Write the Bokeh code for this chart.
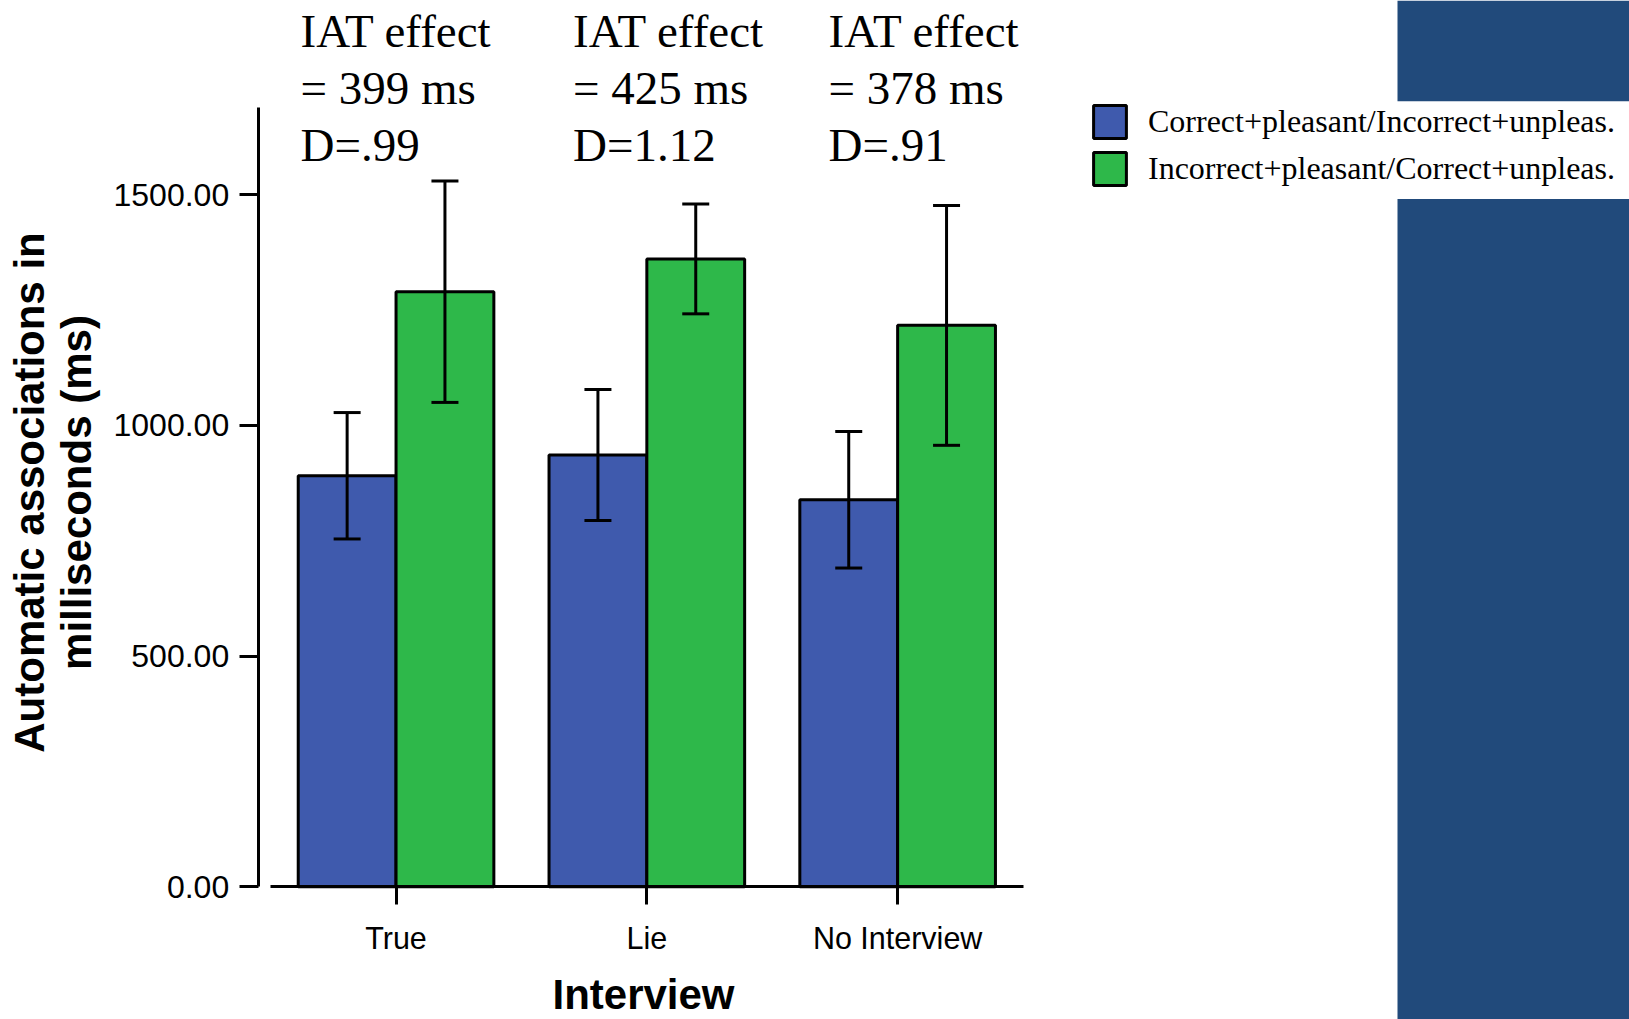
import numpy as np
from bokeh.plotting import figure
from bokeh.models import (ColumnDataSource, Range1d, FixedTicker, PrintfTickFormatter,
                          Whisker, TeeHead, Legend, LegendItem, BoxAnnotation)
from bokeh.embed import file_html
from bokeh.resources import INLINE
from bokeh.core.properties import value

# ---------------- data ----------------
categories = ["True", "Lie", "No Interview"]
series_names = ["Correct+pleasant/Incorrect+unpleas.",
                "Incorrect+pleasant/Correct+unpleas."]
congruent_means = [891, 936, 839]
congruent_err = [137, 142, 148]
incongruent_means = [1290, 1361, 1217]
incongruent_err = [240, 119, 260]
iat_effect = [399, 425, 378]
d_scores = [".99", "1.12", ".91"]
y_ticks = [0, 500, 1000, 1500]
x_title = "Interview"
y_title = "Automatic associations in\nmilliseconds (ms)"

# ---------------- layout constants ----------------
CW, CH = 1629, 1019
FL = 257.7          # canvas x of the y axis
FB = 886.3          # canvas y of the zero line
PX_X = 250.8        # px per category
PX_Y = 0.46132      # px per ms
X0 = -0.0496        # data x of the y axis
Y_AXIS_TOP = 1689

def xd(cx):
    return X0 + (cx - FL) / PX_X

def yd(cy):
    return (FB - cy) / PX_Y

BLUE = "#3F5AAD"
GREEN = "#2EB84A"
NAVY = "#214A7B"
BAR_W = 0.39

centers = np.arange(len(categories)) + 0.5
cm, ce = np.array(congruent_means), np.array(congruent_err)
im, ie = np.array(incongruent_means), np.array(incongruent_err)
src_c = ColumnDataSource(dict(x=centers - BAR_W / 2, top=cm, upper=cm + ce, lower=cm - ce))
src_i = ColumnDataSource(dict(x=centers + BAR_W / 2, top=im, upper=im + ie, lower=im - ie))

p = figure(width=CW, height=CH, output_backend="svg", toolbar_location=None,
           title_location=None,
           x_range=Range1d(xd(0), xd(CW)), y_range=Range1d(yd(CH), yd(0)),
           min_border_left=0, min_border_right=0, min_border_top=0,
           min_border_bottom=0)
p.outline_line_color = None
p.xgrid.visible = False
p.ygrid.visible = False
p.background_fill_color = "white"
p.border_fill_color = "white"

# decorative navy column at right
p.add_layout(BoxAnnotation(left=xd(1397), bottom=yd(100.8), fill_color=NAVY, fill_alpha=1,
                           line_color=None, level="underlay"))
p.add_layout(BoxAnnotation(left=xd(1397), top=yd(198.4), fill_color=NAVY,
                           fill_alpha=1, line_color=None, level="underlay"))

r1 = p.vbar(x="x", top="top", width=BAR_W, bottom=0, source=src_c,
            fill_color=BLUE, line_color="black", line_width=3)
r2 = p.vbar(x="x", top="top", width=BAR_W, bottom=0, source=src_i,
            fill_color=GREEN, line_color="black", line_width=3)

for s in (src_c, src_i):
    w = Whisker(base="x", upper="upper", lower="lower", source=s,
                line_color="black", line_width=3, level="overlay",
                upper_head=TeeHead(size=27, line_width=3, line_color="black"),
                lower_head=TeeHead(size=27, line_width=3, line_color="black"))
    p.add_layout(w)

# IAT annotations
ann_x = [xd(300), xd(572.5), xd(828)]
lines = [["IAT effect"] * 3,
         ["= %d ms" % v for v in iat_effect],
         ["D=%s" % d for d in d_scores]]
baselines = [30.0, 87.0, 144.0]
for txts, by in zip(lines, baselines):
    p.text(x=ann_x, y=[yd(by)] * 3, text=txts, text_font=value("Liberation Serif"),
           text_font_size="47px", text_color="black", text_baseline="alphabetic",
           text_align="left")

# axis titles (drawn as text so they can sit where the reference has them)
p.text(x=[xd(643)], y=[yd(994)], text=[x_title],
       text_font=value("Liberation Sans"), text_font_style="bold",
       text_font_size="42px", text_color="black", text_align="center",
       text_baseline="middle")
p.text(x=[xd(52.5)], y=[yd(492)], text=[y_title], angle=np.pi / 2,
       text_font=value("Liberation Sans"), text_font_style="bold",
       text_font_size="42px", text_color="black", text_align="center",
       text_baseline="middle", text_line_height=1.0)

# axes
ya = p.yaxis[0]
ya.fixed_location = X0
ya.ticker = FixedTicker(ticks=y_ticks)
ya.formatter = PrintfTickFormatter(format="%.2f")
ya.bounds = (0, Y_AXIS_TOP)
ya.axis_line_width = 3
ya.major_tick_line_width = 3
ya.major_tick_out = 19
ya.major_tick_in = 0
ya.minor_tick_out = 0
ya.minor_tick_in = 0
ya.major_label_text_font = "Liberation Sans"
ya.major_label_text_font_size = "32px"
ya.major_label_text_color = "black"
ya.major_label_standoff = 10

xa = p.xaxis[0]
xa.fixed_location = 0
xa.ticker = FixedTicker(ticks=list(centers))
xa.major_label_overrides = {float(c): n for c, n in zip(centers, categories)}
xa.bounds = (0, len(categories))
xa.axis_line_width = 3
xa.major_tick_line_width = 3
xa.major_tick_out = 18
xa.major_tick_in = 0
xa.minor_tick_out = 0
xa.minor_tick_in = 0
xa.major_label_text_font = "Liberation Sans"
xa.major_label_text_font_size = "30.5px"
xa.major_label_text_color = "black"
xa.major_label_standoff = 16

legend = Legend(items=[LegendItem(label=series_names[0], renderers=[r1]),
                       LegendItem(label=series_names[1], renderers=[r2])],
                location=(1089, CH - 189), orientation="vertical",
                glyph_width=41, glyph_height=41, label_height=41, label_width=10,
                label_standoff=18, spacing=6, padding=0, margin=0,
                border_line_color=None, background_fill_alpha=0,
                label_text_font="Liberation Serif", label_text_font_size="32px",
                label_text_color="black")
p.add_layout(legend)

open("out.html", "w").write(file_html(p, INLINE))
